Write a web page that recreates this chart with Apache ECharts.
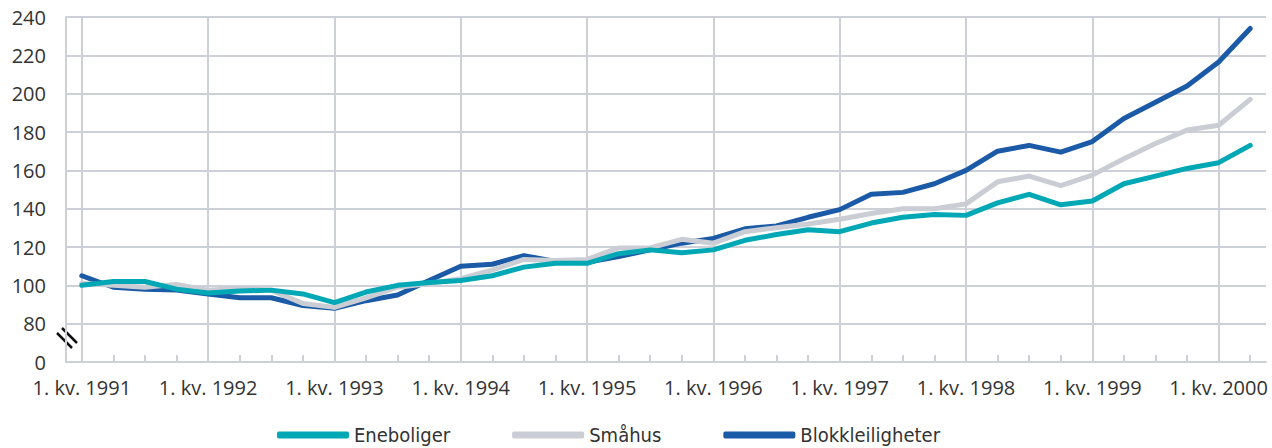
<!DOCTYPE html>
<html>
<head>
<meta charset="utf-8">
<script src="https://cdn.jsdelivr.net/npm/echarts@6/dist/echarts.min.js"></script>
<style>
  html, body { margin: 0; padding: 0; background: #fff; }
  #chart { width: 1272px; height: 448px; }
</style>
</head>
<body>
<div id="chart"></div>
<script>
(function() {
  var years = [1991, 1992, 1993, 1994, 1995, 1996, 1997, 1998, 1999, 2000];
  var quarters = [];
  years.forEach(function(y) {
    for (var q = 1; q <= 4; q++) quarters.push(q + '. kv. ' + y);
  });
  quarters = quarters.slice(0, 38); // 1. kv. 1991 - 2. kv. 2000

  var eneboliger = [100, 102, 102, 98, 96, 97, 97.5, 95.5, 91, 96.5, 100, 101.5, 102.5, 105, 109.5, 111.5, 111.5, 116.5, 118.5, 117, 118.5, 123.5, 126.5, 129, 128, 132.5, 135.5, 137, 136.5, 143, 147.5, 142, 144, 153, 157, 161, 164, 173];
  var smahus = [101, 100, 99, 100.5, 97.5, 98.5, 97.5, 90.5, 88.5, 93.5, 99, 101, 103.5, 108, 113.5, 113, 113.5, 119.5, 119.5, 124, 122, 128, 130, 132, 134.5, 137.5, 140, 140, 142.5, 154, 157, 152, 157.5, 166, 174, 181, 183.5, 197];
  var blokk = [105, 99, 98, 97.5, 95.5, 93.5, 93.5, 89.5, 88, 92, 95, 102.5, 110, 111, 115.5, 112.5, 112, 115, 118.5, 122, 124.5, 129.5, 131, 135.5, 139.5, 147.5, 148.5, 153, 160, 170, 173, 169.5, 175, 187, 195.5, 204, 216.5, 234];

  var grid = '#cdd0d6';
  var ink = '#333333';
  var font = '"Open Sans", sans-serif';

  var chart = echarts.init(document.getElementById('chart'), null, { renderer: 'svg' });
  chart.setOption({
    animation: false,
    grid: { left: 66, right: 6, top: 17, bottom: 86 },
    legend: {
      data: ['Eneboliger', 'Småhus', 'Blokkleiligheter'],
      left: 272, top: 420,
      icon: 'roundRect',
      itemWidth: 72, itemHeight: 7, itemGap: 62,
      textStyle: { color: ink, fontSize: 20, lineHeight: 20, fontFamily: '"Liberation Sans Narrow", "DejaVu Sans Condensed", sans-serif' }
    },
    xAxis: {
      type: 'category',
      data: quarters,
      boundaryGap: true,
      axisLine: { lineStyle: { color: grid, width: 2 } },
      axisTick: { show: true, inside: true, alignWithLabel: true, interval: 0, length: 7, lineStyle: { color: grid, width: 2 } },
      axisLabel: {
        interval: function(i) { return i % 4 === 0; },
        color: ink, fontSize: 20, lineHeight: 20, fontFamily: font, margin: 15,
        formatter: function(v) { return v.indexOf('1. kv.') === 0 ? v : ''; }
      },
      splitLine: {
        show: true, alignWithLabel: true,
        interval: function(i) { return i % 4 === 0; },
        lineStyle: { color: grid, width: 2 }
      }
    },
    yAxis: {
      type: 'value',
      min: 60, max: 240, interval: 20,
      axisLine: { show: true, lineStyle: { color: grid, width: 2 } },
      axisTick: { show: false },
      axisLabel: {
        color: ink, fontSize: 20, lineHeight: 16, fontFamily: font, margin: 20,
        formatter: function(v) { return v === 60 ? '0' : String(v); }
      },
      splitLine: { lineStyle: { color: grid, width: 2 } }
    },
    graphic: [
      { type: 'line', shape: { x1: 57, y1: 333, x2: 72, y2: 348 }, style: { stroke: '#111', lineWidth: 2.5 } },
      { type: 'line', shape: { x1: 62, y1: 328, x2: 77, y2: 343 }, style: { stroke: '#111', lineWidth: 2.5 } }
    ],
    series: [
      {
        name: 'Blokkleiligheter', type: 'line', data: blokk, symbol: 'none', z: 2,
        lineStyle: { color: '#1b5aa6', width: 5, cap: 'round', join: 'round' },
        itemStyle: { color: '#1b5aa6' }
      },
      {
        name: 'Småhus', type: 'line', data: smahus, symbol: 'none', z: 3,
        lineStyle: { color: '#cacdd3', width: 5, cap: 'round', join: 'round' },
        itemStyle: { color: '#cacdd3' }
      },
      {
        name: 'Eneboliger', type: 'line', data: eneboliger, symbol: 'none', z: 4,
        lineStyle: { color: '#00a8b5', width: 5, cap: 'round', join: 'round' },
        itemStyle: { color: '#00a8b5' }
      }
    ]
  });
  window.addEventListener('resize', function() { chart.resize(); });
})();
</script>
</body>
</html>
